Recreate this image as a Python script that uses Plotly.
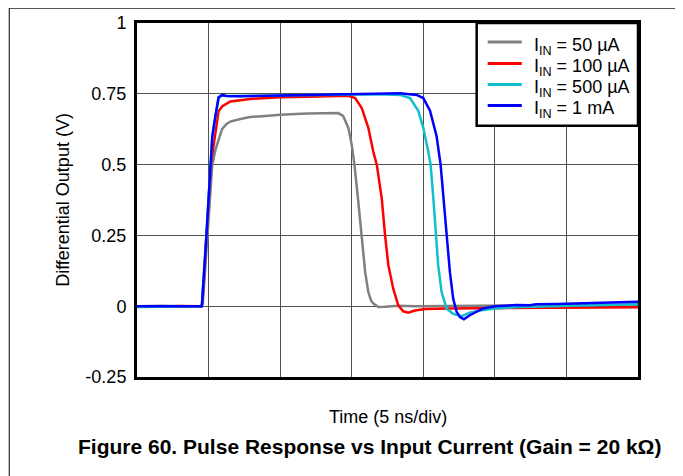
import plotly.graph_objects as go

# Time in ns (5 ns/div), output in V
t_50u = [0.0, 1.64, 3.38, 4.50, 4.60, 4.85, 5.05, 5.26, 5.47, 5.70, 5.94, 6.24, 6.52, 7.22, 7.91, 8.96,
         10.0, 11.89, 13.49, 14.05, 14.40, 14.61, 14.77, 15.00, 15.19, 15.46, 15.70, 15.94, 16.16, 16.35,
         16.51, 16.86, 17.33, 18.23, 19.42, 21.86, 25.34, 28.83, 32.31, 35.0]
v_50u = [0.0, 0.002, 0.0, 0.0, 0.01, 0.2, 0.38, 0.5, 0.55, 0.585, 0.625, 0.643, 0.652, 0.661, 0.668, 0.672,
         0.676, 0.68, 0.681, 0.682, 0.672, 0.65, 0.629, 0.57, 0.5, 0.369, 0.25, 0.12, 0.05, 0.02,
         0.009, -0.003, -0.002, 0.002, 0.0, 0.001, 0.002, 0.003, 0.004, 0.005]

t_100u = [0.0, 1.5, 3.0, 4.50, 4.57, 4.85, 5.16, 5.33, 5.47, 5.70, 5.94, 6.52, 7.91, 10.0, 11.89, 14.75,
          15.24, 15.70, 16.16, 16.51, 16.75, 17.10, 17.33, 17.56, 17.90, 18.25, 18.60, 18.95, 19.42, 20.11,
          21.86, 25.34, 28.83, 32.31, 35.0]
v_100u = [0.0, -0.002, 0.001, 0.0, 0.01, 0.25, 0.5, 0.56, 0.605, 0.688, 0.705, 0.723, 0.732, 0.738, 0.74, 0.743,
          0.735, 0.70, 0.63, 0.545, 0.5, 0.38, 0.25, 0.145, 0.062, 0.003, -0.018, -0.023, -0.015, -0.01,
          -0.008, -0.007, -0.006, -0.005, -0.004]

t_500u = [0.0, 1.5, 3.0, 4.47, 4.53, 4.85, 5.16, 5.26, 5.47, 5.70, 5.94, 6.38, 7.91, 11.4, 14.89, 16.98,
          18.37, 19.07, 19.65, 20.0, 20.35, 20.51, 20.69, 20.86, 21.04, 21.28, 21.63, 22.09, 22.67, 23.25,
          23.95, 25.0, 26.74, 28.83, 32.31, 35.0]
v_500u = [-0.003, -0.002, -0.003, -0.002, 0.0, 0.25, 0.5, 0.6, 0.665, 0.735, 0.744, 0.742, 0.743, 0.745, 0.746, 0.748,
          0.746, 0.735, 0.69, 0.63, 0.545, 0.5, 0.39, 0.25, 0.145, 0.05, -0.009, -0.027, -0.035, -0.023,
          -0.015, -0.008, -0.003, 0.0, 0.004, 0.007]

t_1m = [0.0, 1.5, 3.0, 4.47, 4.53, 4.85, 5.16, 5.26, 5.47, 5.70, 5.94, 6.24, 7.22, 10.0, 13.49, 16.98,
        18.37, 19.54, 20.0, 20.47, 20.93, 21.21, 21.39, 21.63, 21.86, 22.09, 22.33, 22.56, 22.84, 23.25,
        23.95, 24.18, 25.0, 26.51, 27.44, 27.90, 29.30, 31.15, 33.48, 35.0]
v_1m = [0.0, 0.001, 0.0, 0.0, 0.0, 0.25, 0.5, 0.6, 0.67, 0.738, 0.746, 0.742, 0.741, 0.744, 0.746, 0.749,
        0.752, 0.746, 0.735, 0.69, 0.6, 0.5, 0.39, 0.25, 0.12, 0.026, -0.02, -0.038, -0.046, -0.032,
        -0.015, -0.008, 0.0, 0.004, 0.003, 0.007, 0.008, 0.011, 0.014, 0.016]

series_names = ["I<sub>IN</sub> = 50 µA", "I<sub>IN</sub> = 100 µA", "I<sub>IN</sub> = 500 µA", "I<sub>IN</sub> = 1 mA"]
series_t = [t_50u, t_100u, t_500u, t_1m]
series_v = [v_50u, v_100u, v_500u, v_1m]
colors = ["#808080", "#FF0000", "#10BFCB", "#0000FF"]

y_tickvals = [-0.25, 0, 0.25, 0.5, 0.75, 1]
y_ticktext = ["-0.25", "0", "0.25", "0.5", "0.75", "1"]

FONT = "Liberation Sans, Arial, sans-serif"

fig = go.Figure()
for name, tt, vv, c in zip(series_names, series_t, series_v, colors):
    fig.add_trace(go.Scatter(x=tt, y=vv, mode="lines", name=name, showlegend=False,
                             line=dict(color=c, width=2.5), hoverinfo="skip"))

# Legend drawn as a boxed key (paper coordinates of the plot area)
legend_x0, legend_x1 = 0.678, 1.0
legend_y0, legend_y1 = 0.7097, 1.0
entry_y = [0.9463, 0.8855, 0.8261, 0.7668]
line_x0, line_x1 = 0.700, 0.768
text_x = 0.788

shapes = [
    dict(type="rect", xref="paper", yref="paper", x0=legend_x0, x1=legend_x1, y0=legend_y0, y1=legend_y1,
         line=dict(color="black", width=2.5), fillcolor="white", layer="above"),
    # page border
    dict(type="line", xref="paper", yref="paper", x0=-0.255, x1=1.0857, y0=1.0419, y1=1.0419,
         line=dict(color="black", width=1)),
    dict(type="line", xref="paper", yref="paper", x0=-0.255, x1=-0.255, y0=1.0419, y1=-0.3,
         line=dict(color="black", width=1)),
    dict(type="line", xref="paper", yref="paper", x0=1.0857, x1=1.0857, y0=1.0419, y1=-0.3,
         line=dict(color="black", width=1)),
]
annotations = [
    dict(text="Differential Output (V)", xref="paper", yref="paper", x=-0.148, y=0.5,
         textangle=-90, showarrow=False, xanchor="center", yanchor="middle", font=dict(size=18)),
    dict(text="Time (5 ns/div)", xref="paper", yref="paper", x=0.5, y=-0.113,
         showarrow=False, xanchor="center", yanchor="middle", font=dict(size=18)),
    dict(text="<b>Figure 60. Pulse Response vs Input Current (Gain = 20 kΩ)</b>", xref="paper", yref="paper",
         x=0.465, y=-0.195, showarrow=False, xanchor="center", yanchor="middle", font=dict(size=21)),
]
for name, c, ey in zip(series_names, colors, entry_y):
    shapes.append(dict(type="line", xref="paper", yref="paper", x0=line_x0, x1=line_x1, y0=ey, y1=ey,
                       line=dict(color=c, width=3), layer="above"))
    annotations.append(dict(text=name, xref="paper", yref="paper", x=text_x, y=ey - 0.012, showarrow=False,
                            xanchor="left", yanchor="middle", font=dict(size=18)))

fig.update_layout(
    width=675, height=468, autosize=False,
    margin=dict(l=128.5, r=44.5, t=15, b=99, autoexpand=False),
    paper_bgcolor="white", plot_bgcolor="white",
    font=dict(family=FONT, size=18, color="black"),
    showlegend=False,
    xaxis=dict(range=[0, 35], dtick=5, tick0=0, showticklabels=False, ticks="",
               showgrid=True, gridcolor="#505050", gridwidth=1, automargin=False,
               showline=True, linecolor="black", linewidth=3, mirror=True, zeroline=False),
    yaxis=dict(range=[-0.25, 1], tickvals=y_tickvals, ticktext=y_ticktext, ticks="",
               showgrid=True, gridcolor="#505050", gridwidth=1, ticklabelstandoff=4, automargin=False,
               showline=True, linecolor="black", linewidth=3, mirror=True, zeroline=False,
               tickfont=dict(size=18)),
    annotations=annotations,
    shapes=shapes,
)

fig.write_html("out.html")
